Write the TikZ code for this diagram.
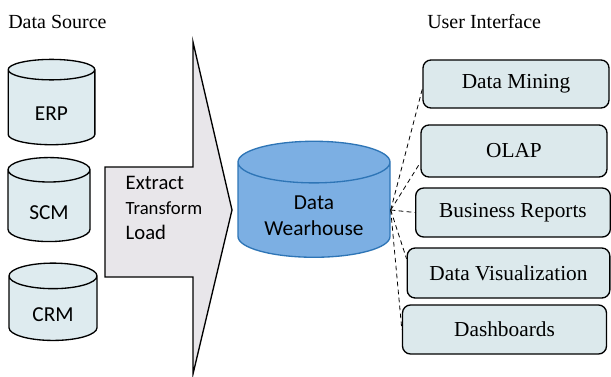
\documentclass[tikz,border=0pt]{standalone}
\usepackage{fontspec}
\setmainfont{Liberation Serif}
\newfontfamily\carlito{Carlito}
\usetikzlibrary{shapes.geometric}
\definecolor{SrcFill}{HTML}{DEEBEF}
\definecolor{UIFill}{HTML}{DCE9EC}
\definecolor{DWFill}{HTML}{7CAFE3}
\definecolor{DWEdge}{HTML}{2E75B6}
\definecolor{ETLFill}{HTML}{E8E6EA}

\begin{document}
\begin{tikzpicture}[x=0.75pt,y=-0.75pt,
  store/.style={cylinder,shape border rotate=90,aspect=0.62,draw=black,line width=1pt,fill=SrcFill,inner sep=0pt,font=\carlito\fontsize{16pt}{19pt}\selectfont},
  ware/.style={store,aspect=0.42,draw=DWEdge,fill=DWFill},
  tool/.style={draw=black,line width=1pt,fill=UIFill,rounded corners=6pt,inner sep=0pt,font=\fontsize{16pt}{19pt}\selectfont},
  head/.style={anchor=base west,inner sep=0pt,font=\fontsize{15pt}{18pt}\selectfont},
  link/.style={dashed,line width=0.6pt,dash pattern=on 3.5pt off 2.5pt},
]
\useasboundingbox (0,0) rectangle (611,376);
\node[head] (src) at (8,28) {Data Source};
\node[head] (ui) at (427,28) {User Interface};

% sources
\node[store,minimum width=65pt,minimum height=64pt] (erp) at (51.5,107.5) {\raisebox{-10pt}[0pt][0pt]{ERP}};
\node[store,minimum width=61.5pt,minimum height=63pt] (scm) at (49,206) {\raisebox{-10pt}[0pt][0pt]{SCM}};
\node[store,minimum width=66pt,minimum height=58pt] (crm) at (53,308.5) {\raisebox{-10pt}[0pt][0pt]{CRM}};

% etl arrow
\draw[line width=1pt,fill=ETLFill] (105,167) -- (193,167) -- (193,42) -- (232,210)
  -- (193,374) -- (193,277) -- (105,277) -- cycle;
\node[anchor=west,align=left,font=\carlito\fontsize{15.5pt}{18.75pt}\selectfont] (etl) at (121,208)
  {Extract\\{\fontsize{14pt}{18.75pt}\selectfont Transform}\\Load};

% warehouse
\node[ware,minimum width=114pt,minimum height=87pt] (dw) at (314,210)
  {\raisebox{-10pt}[0pt][0pt]{\begin{tabular}{@{}c@{}}Data\\Wearhouse\end{tabular}}};

% user interface
\node[tool,minimum width=139.5pt,minimum height=36pt] (dm) at (516,84) {Data Mining};
\node[tool,minimum width=139.5pt,minimum height=39pt] (ol) at (514,151) {OLAP};
\node[tool,minimum width=146pt,minimum height=36.75pt] (br) at (513,212.5) {Business Reports};
\node[tool,minimum width=152pt,minimum height=37.5pt] (dv) at (508.5,273) {Data Visualization};
\node[tool,minimum width=153pt,minimum height=36.75pt] (db) at (504.5,329.5) {Dashboards};

\draw[link] (dw.east) -- (dm.183);
\draw[link] (dw.east) -- (ol.187);
\draw[link] (dw.east) -- (br.west);
\draw[link] (dw.east) -- (dv.172);
\draw[link] (dw.east) -- (db.west);
\end{tikzpicture}
\end{document}
